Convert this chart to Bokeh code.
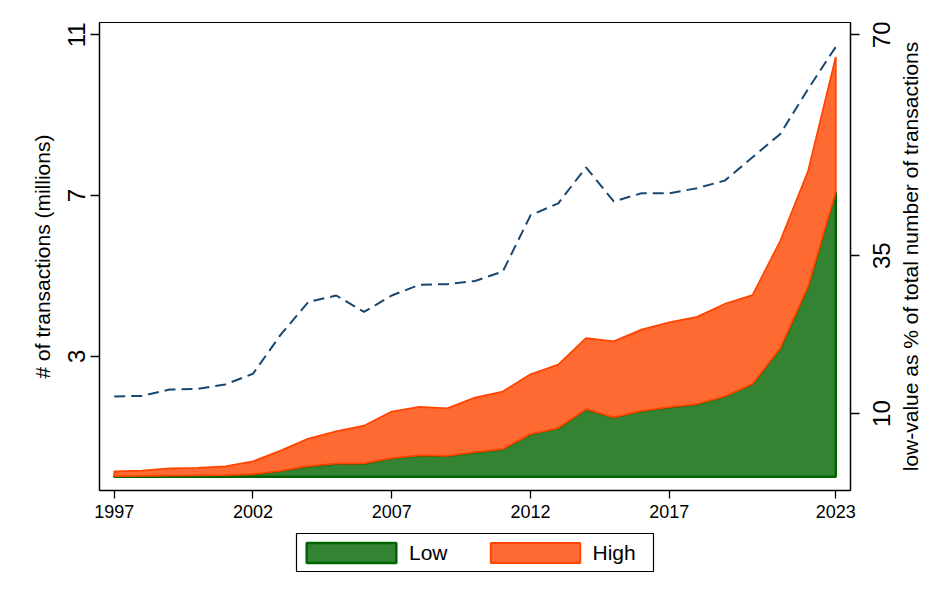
from bokeh.plotting import figure
from bokeh.models import LinearAxis, Range1d, FixedTicker, Legend, LegendItem
from bokeh.layouts import row, column
from bokeh.core.properties import value
from bokeh.embed import file_html
from bokeh.resources import INLINE
import math

years = list(range(1997, 2024))
low = [0.017, 0.019, 0.029, 0.031, 0.038, 0.062, 0.146, 0.263, 0.324, 0.331,
       0.465, 0.529, 0.519, 0.61, 0.689, 1.06, 1.21, 1.68, 1.48, 1.64,
       1.73, 1.81, 2.00, 2.31, 3.20, 4.73, 7.09]
high = [0.113, 0.131, 0.181, 0.189, 0.222, 0.318, 0.504, 0.687, 0.806, 0.939,
        1.155, 1.211, 1.181, 1.36, 1.431, 1.49, 1.58, 1.77, 1.89, 2.02,
        2.11, 2.17, 2.30, 2.21, 2.67, 2.87, 3.36]
pct_low = [12.7, 12.8, 13.8, 13.9, 14.6, 16.3, 22.5, 27.7, 28.7, 26.1,
           28.7, 30.4, 30.5, 31.0, 32.5, 41.4, 43.3, 49.0, 43.6, 44.9,
           44.9, 45.7, 46.9, 50.6, 54.3, 61.4, 68.1]
x_ticks = [1997, 2002, 2007, 2012, 2017, 2023]
left_ticks = [3, 7, 11]
right_ticks = [10, 35, 70]
right_tick_labels = ["10", "35", "70"]
series_names = ["Low", "High"]
left_title = "# of transactions (millions)"
right_title = "low-value as % of total number of transactions"

FONT = "Liberation Sans"
GREEN_FILL, GREEN_LINE = "#338333", "#006400"
ORANGE_FILL, ORANGE_LINE = "#ff6a33", "#ff4500"

pct_range = (-2.19, 71.95)

# ---------------- main figure ----------------
p = figure(width=864, height=530,
           x_range=Range1d(1996.47, 2023.53), y_range=Range1d(-0.343, 11.306),
           output_backend="svg", toolbar_location=None,
           min_border_left=99, min_border_right=14, min_border_top=22, min_border_bottom=40)
p.extra_y_ranges = {"pct": Range1d(*pct_range)}
p.grid.visible = False
p.outline_line_color = "black"
p.outline_line_width = 1
p.border_fill_color = "white"

total = [a + b for a, b in zip(low, high)]
gx = years + years[::-1]
gy = low + [0.0] * len(years)
p.patch(gx, gy, fill_color=GREEN_FILL, line_color=GREEN_LINE, line_width=2.5)
ox = years + years[::-1]
oy = total + low[::-1]
p.patch(ox, oy, fill_color=ORANGE_FILL, line_color=ORANGE_LINE, line_width=1.8)

p.line(years, pct_low, y_range_name="pct", line_color="#1a476f", line_width=2,
       line_dash="11 6")

def style(ax):
    ax.axis_line_color = "black"
    ax.axis_line_width = 1.5
    ax.major_tick_line_color = "black"
    ax.major_tick_line_width = 1.3
    ax.major_tick_out = 9
    ax.major_tick_in = 0
    ax.minor_tick_line_color = None
    ax.major_label_text_font = FONT
    ax.axis_label_text_font = FONT
    ax.axis_label_text_font_style = "normal"
    ax.major_label_text_color = "black"
    ax.axis_label_text_color = "black"

xa = p.xaxis[0]
style(xa)
xa.ticker = FixedTicker(ticks=x_ticks)
xa.major_label_text_font_size = "18px"
xa.major_tick_out = 8
xa.major_label_standoff = 6

ya = p.yaxis[0]
style(ya)
ya.ticker = FixedTicker(ticks=left_ticks)
ya.major_label_text_font_size = "24px"
ya.major_label_orientation = "vertical"
ya.major_label_standoff = 5
ya.axis_label = left_title
ya.axis_label_text_font_size = "21px"
ya.axis_label_standoff = 12

ra = LinearAxis(y_range_name="pct")
style(ra)
ra.ticker = FixedTicker(ticks=right_ticks)
ra.major_label_overrides = {t: "" for t in right_ticks}
ra.major_label_text_font_size = "0px"
ra.major_label_standoff = 0
p.add_layout(ra, "right")

# ---------------- right-side labels ----------------
r = figure(width=82, height=530, x_range=Range1d(0, 82), y_range=Range1d(*pct_range),
           output_backend="svg", toolbar_location=None,
           min_border_left=0, min_border_right=0, min_border_top=22, min_border_bottom=40,
           x_axis_type=None, y_axis_type=None)
r.grid.visible = False
r.outline_line_color = None
r.text(x=[16.5] * len(right_ticks), y=right_ticks, text=right_tick_labels,
       angle=math.pi / 2, text_align="center", text_baseline="middle",
       text_font=value(FONT), text_font_size="24px", text_color="black")
r.text(x=[45.6], y=[(pct_range[0] + pct_range[1]) / 2], text=[right_title],
       angle=math.pi / 2, text_align="center", text_baseline="middle",
       text_font=value(FONT), text_font_size="21px", text_color="black")

# ---------------- legend strip ----------------
lg = figure(width=946, height=66, x_range=Range1d(0, 1), y_range=Range1d(0, 1),
            output_backend="svg", toolbar_location=None,
            min_border_left=296, min_border_right=293, min_border_top=3, min_border_bottom=25,
            x_axis_type=None, y_axis_type=None)
lg.grid.visible = False
lg.outline_line_color = "black"
lg.outline_line_width = 1.2
lg_g = lg.patch(gx, gy, fill_color=GREEN_FILL, line_color=GREEN_LINE, line_width=2.5)
lg_o = lg.patch(ox, oy, fill_color=ORANGE_FILL, line_color=ORANGE_LINE, line_width=1.8)
legend = Legend(items=[LegendItem(label=series_names[0], renderers=[lg_g]),
                       LegendItem(label=series_names[1], renderers=[lg_o])],
                orientation="horizontal", location=(-1, 6),
                border_line_color=None, background_fill_alpha=0,
                glyph_width=112, glyph_height=25, label_standoff=2,
                label_text_font=FONT, label_text_font_size="21px",
                label_text_color="black",
                spacing=31, padding=0, margin=0)
lg.add_layout(legend, "center")

layout = column(row(p, r), lg)
open("out.html", "w").write(file_html(layout, INLINE))
